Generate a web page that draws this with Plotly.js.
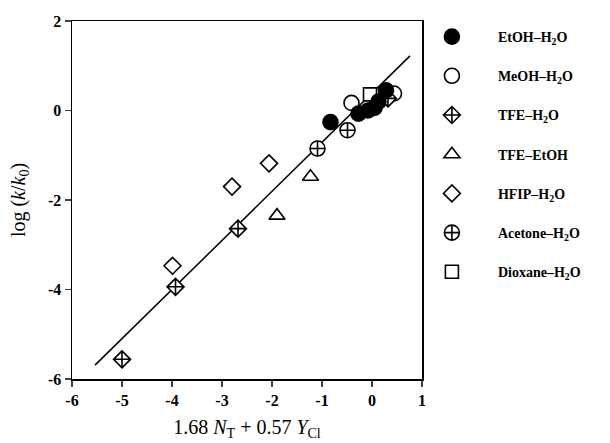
<!DOCTYPE html>
<html>
<head>
<meta charset="utf-8">
<script src="https://cdn.plot.ly/plotly-3.0.1.min.js"></script>
<style>html,body{margin:0;padding:0;background:#fff;}#chart{width:610px;height:443px;}</style>
</head>
<body>
<div id="chart"></div>
<script>
// Data
const etohX = [-0.83, -0.27, -0.08, 0.05, 0.13, 0.28];
const etohY = [-0.26, -0.07, 0.0, 0.06, 0.2, 0.45];
const meohX = [-0.41, 0.44];
const meohY = [0.17, 0.38];
const tfeWaterX = [-5.0, -3.93, -2.68, 0.32];
const tfeWaterY = [-5.56, -3.94, -2.64, 0.27];
const tfeEtohX = [-1.9, -1.23];
const tfeEtohY = [-2.35, -1.48];
const hfipX = [-3.99, -2.80, -2.06];
const hfipY = [-3.47, -1.70, -1.18];
const acetoneX = [-1.09, -0.49];
const acetoneY = [-0.85, -0.44];
const dioxaneX = [-0.04];
const dioxaneY = [0.36];
const fitX = [-5.54, 0.76];
const fitY = [-5.69, 1.22];
const xTicks = [-6, -5, -4, -3, -2, -1, 0, 1];
const yTicks = [-6, -4, -2, 0, 2];

const serif = "Liberation Serif";
const mk = (symbol, fill, size) => ({symbol: symbol, size: size, color: fill, line: {color: '#000', width: 1.6}});

const traces = [
  {x: fitX, y: fitY, mode: 'lines', line: {color: '#000', width: 1.5}, showlegend: false, hoverinfo: 'skip'},
  {name: '<b>MeOH–H<sub>2</sub>O</b>', x: meohX, y: meohY, mode: 'markers', marker: mk('circle', '#fff', 15), legendrank: 2, legendgroup: 'b'},
  {name: '<b>TFE–H<sub>2</sub>O</b>', x: tfeWaterX, y: tfeWaterY, mode: 'markers', marker: mk('diamond-cross', '#fff', 13), legendrank: 3, legendgroup: 'c'},
  {name: '<b>TFE–EtOH</b>', x: tfeEtohX, y: tfeEtohY, mode: 'markers', marker: mk('triangle-up', '#fff', 14), legendrank: 4, legendgroup: 'd'},
  {name: '<b>HFIP–H<sub>2</sub>O</b>', x: hfipX, y: hfipY, mode: 'markers', marker: mk('diamond', '#fff', 13), legendrank: 5, legendgroup: 'e'},
  {name: '<b>Acetone–H<sub>2</sub>O</b>', x: acetoneX, y: acetoneY, mode: 'markers', marker: mk('circle-cross', '#fff', 15), legendrank: 6, legendgroup: 'f'},
  {name: '<b>Dioxane–H<sub>2</sub>O</b>', x: dioxaneX, y: dioxaneY, mode: 'markers', marker: mk('square', '#fff', 13), legendrank: 7, legendgroup: 'g'},
  {name: '<b>EtOH–H<sub>2</sub>O</b>', x: etohX, y: etohY, mode: 'markers', marker: mk('circle', '#000', 15), legendrank: 1, legendgroup: 'a'}
];

const layout = {
  width: 610, height: 443,
  margin: {l: 72, r: 188, t: 21, b: 64},
  paper_bgcolor: '#fff', plot_bgcolor: '#fff',
  font: {family: serif, color: '#000', size: 16, weight: 'bold'},
  showlegend: true,
  legend: {x: 0.954, xanchor: 'left', y: 1.0, yanchor: 'top', font: {family: serif, size: 14, color: '#000', weight: 'normal'},
           tracegroupgap: 18, itemwidth: 82, bgcolor: 'rgba(0,0,0,0)'},
  xaxis: {range: [-6, 1], tickmode: 'array', tickvals: xTicks, ticktext: xTicks.map(v => '<b>' + v + '</b>'), ticks: 'outside', ticklen: 6, tickwidth: 1.2,
          showline: true, linewidth: 1.5, linecolor: '#000', mirror: true, showgrid: false, zeroline: false,
          title: {text: '1.68 <i>N</i><sub>T</sub> + 0.57 <i>Y</i><sub>Cl</sub>', font: {family: serif, size: 20, weight: 'normal'}, standoff: 12}},
  yaxis: {range: [-6, 2], tickmode: 'array', tickvals: yTicks, ticktext: yTicks.map(v => '<b>' + v + '</b>'), ticks: 'outside', ticklen: 6, tickwidth: 1.2,
          showline: true, linewidth: 1.5, linecolor: '#000', mirror: true, showgrid: false, zeroline: false,
          title: {text: 'log (<i>k</i>/<i>k</i><sub>0</sub>)', font: {family: serif, size: 20, weight: 'normal'}, standoff: 17}}
};

Plotly.newPlot('chart', traces, layout, {displayModeBar: false, staticPlot: true});
</script>
</body>
</html>
